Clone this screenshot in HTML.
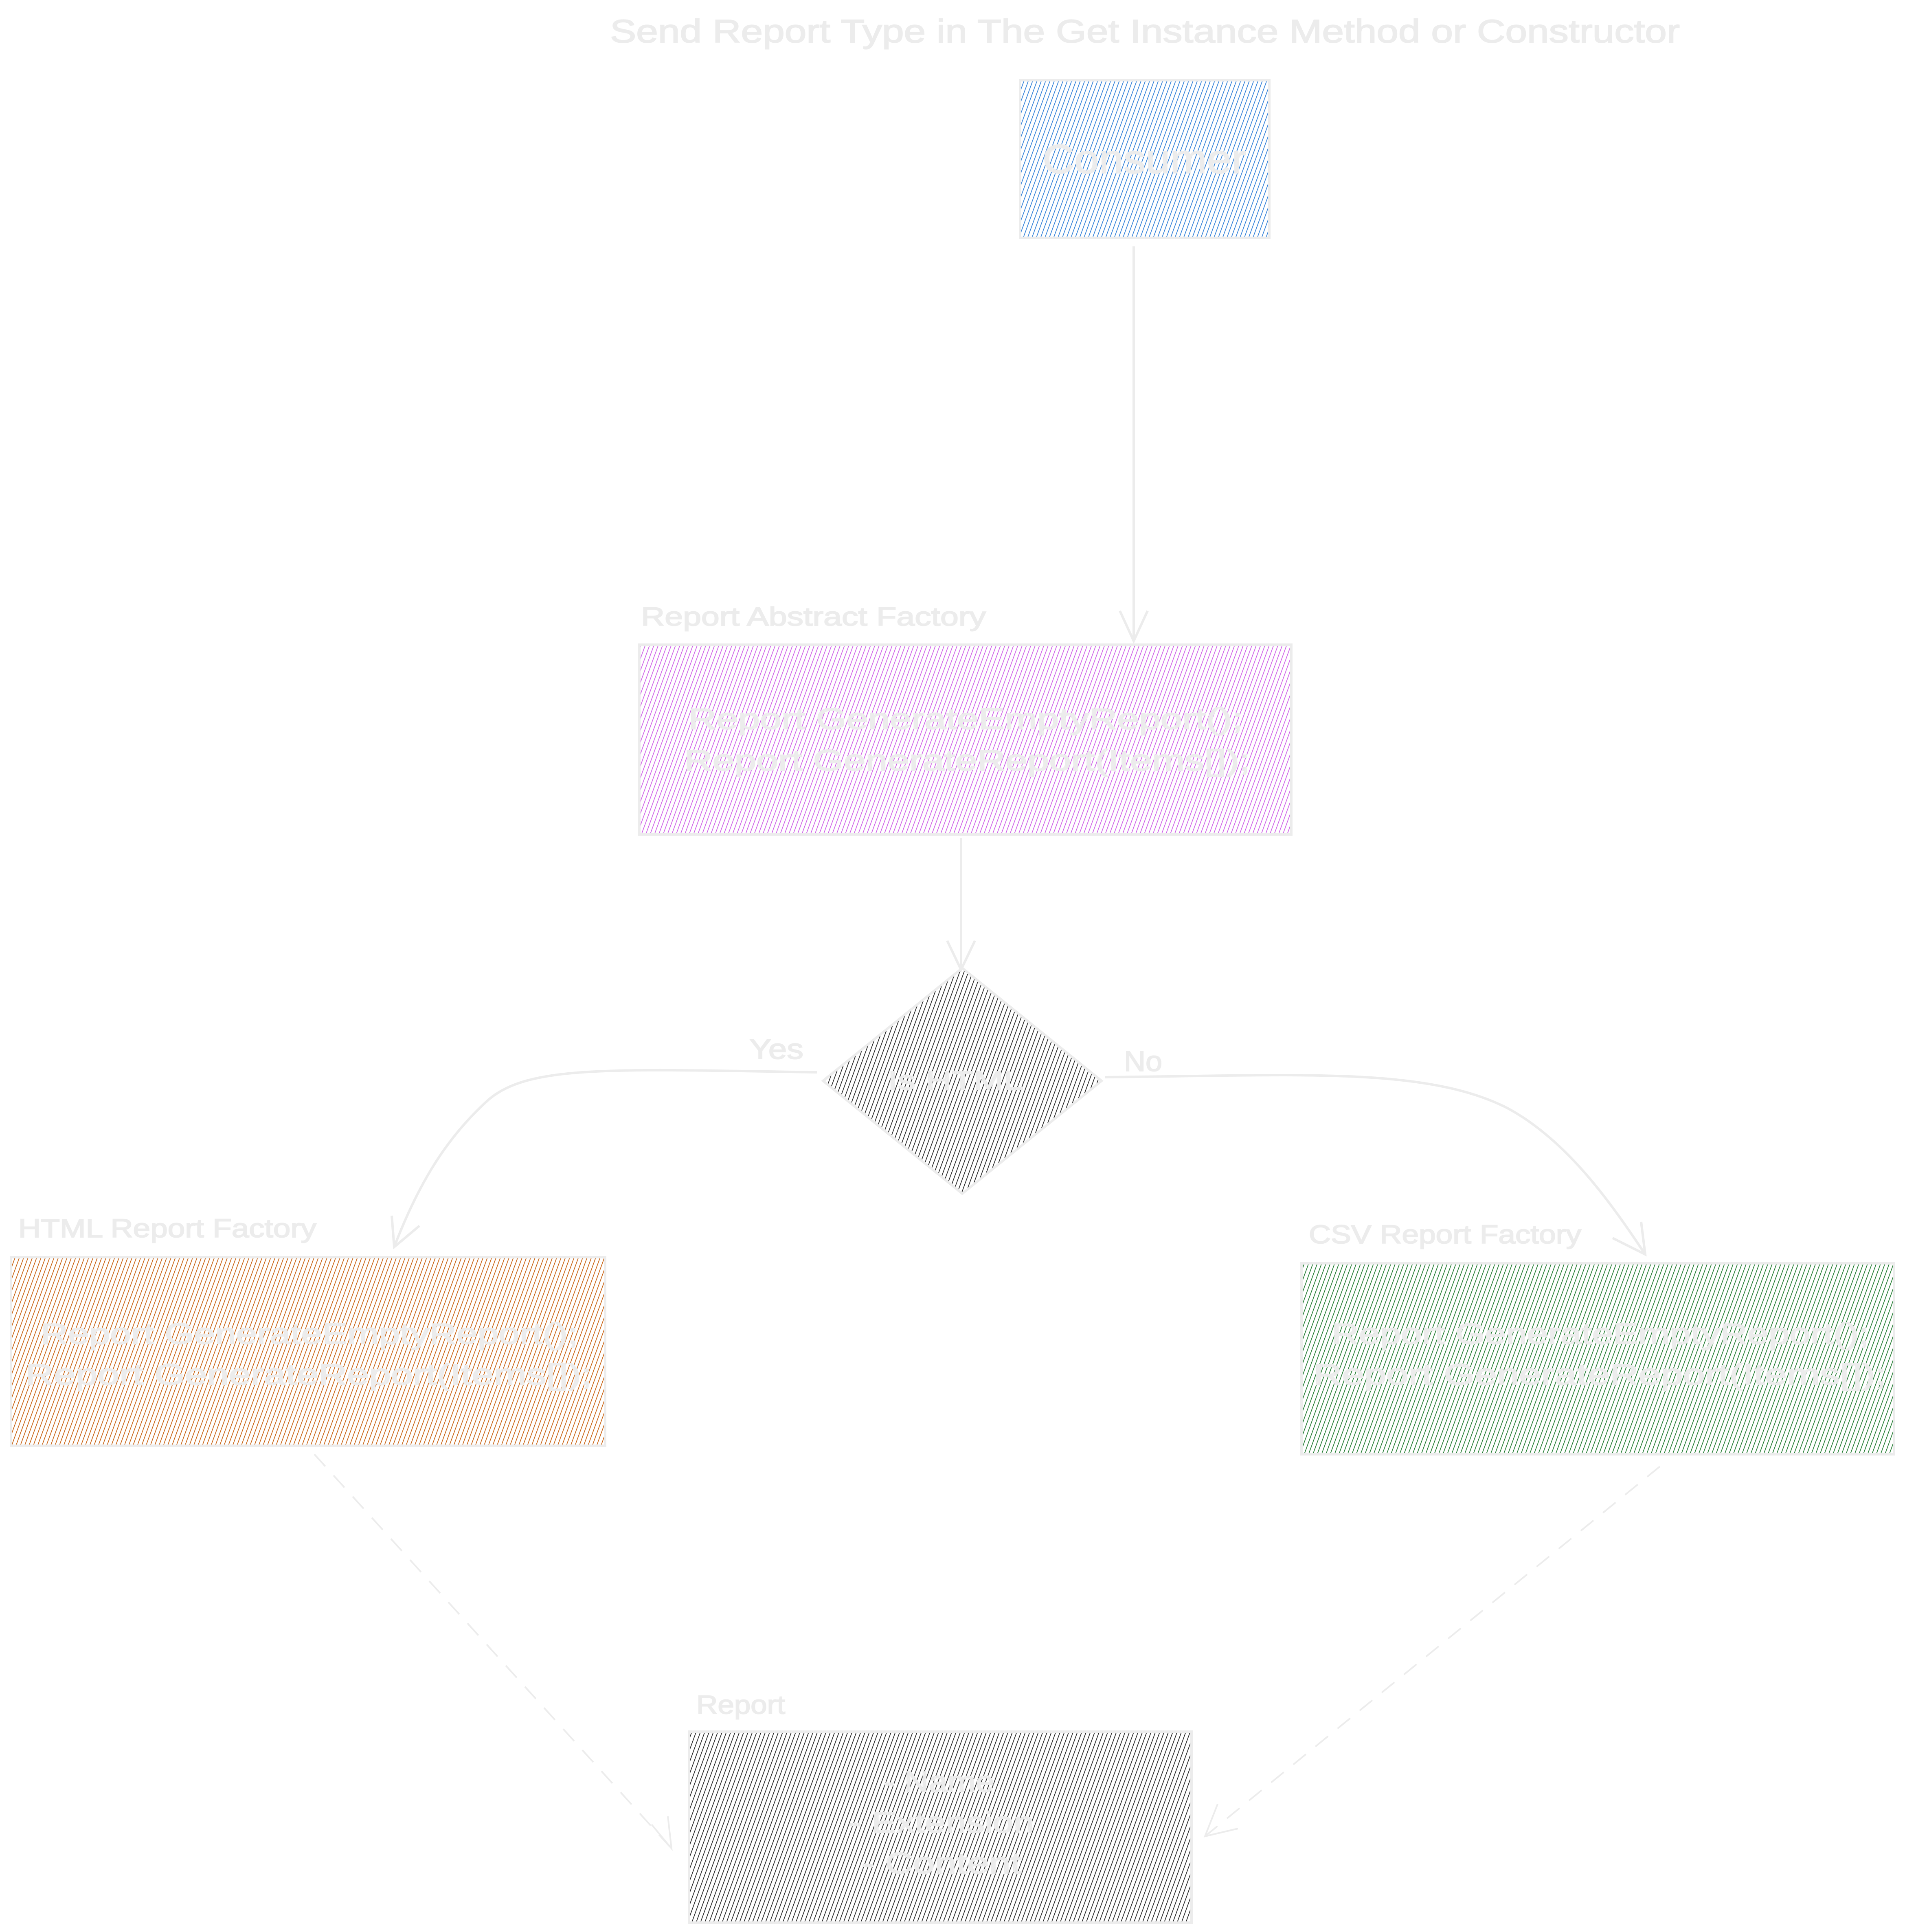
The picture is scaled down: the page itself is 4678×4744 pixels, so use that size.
<!DOCTYPE html>
<html><head><meta charset="utf-8"><style>
html,body{margin:0;padding:0;background:#fff;}
svg{display:block;}
text{font-family:"Liberation Sans",sans-serif;fill:#ececec;stroke:#ececec;stroke-width:2;}
</style></head><body>
<svg width="4678" height="4744" viewBox="0 0 4678 4744" xmlns="http://www.w3.org/2000/svg">
<defs>
<pattern id="hb" width="10" height="10" patternUnits="userSpaceOnUse" patternTransform="rotate(20)"><line x1="0" y1="0" x2="0" y2="10" stroke="#2f7fd8" stroke-width="3.5"/></pattern>
<pattern id="hp" width="10" height="10" patternUnits="userSpaceOnUse" patternTransform="rotate(20)"><line x1="0" y1="0" x2="0" y2="10" stroke="#cf5ee8" stroke-width="3.5"/></pattern>
<pattern id="ho" width="10" height="10" patternUnits="userSpaceOnUse" patternTransform="rotate(20)"><line x1="0" y1="0" x2="0" y2="10" stroke="#c8600e" stroke-width="3.5"/></pattern>
<pattern id="hg" width="10" height="10" patternUnits="userSpaceOnUse" patternTransform="rotate(20)"><line x1="0" y1="0" x2="0" y2="10" stroke="#1f7a2e" stroke-width="3.5"/></pattern>
<pattern id="hk" width="10" height="10" patternUnits="userSpaceOnUse" patternTransform="rotate(20)"><line x1="0" y1="0" x2="0" y2="10" stroke="#222" stroke-width="3.5"/></pattern>
</defs>
<g stroke="#ececec" stroke-width="6" fill="none">
<path d="M2784 605 L2784 1574"/><path d="M2750 1500 L2784 1574 L2818 1500"/>
<path d="M2360 2058 L2360 2381"/><path d="M2326 2310 L2360 2381 L2394 2310"/>
<path d="M2006 2633 C1500 2625 1300 2615 1200 2700 C1100 2790 1030 2900 968 3062"/><path d="M962 2985 L968 3062 L1030 3010"/>
<path d="M2714 2645 C3200 2640 3500 2620 3700 2720 C3850 2800 3960 2960 4040 3080"/><path d="M3960 3040 L4040 3080 L4030 3000"/>
<path d="M772 3571 L1649 4539" stroke-dasharray="40 30" stroke-width="4"/><path d="M1600 4480 L1649 4539 L1640 4460" stroke-width="4"/>
<path d="M4076 3601 L2959 4509" stroke-dasharray="40 30" stroke-width="4"/><path d="M2990 4430 L2959 4509 L3040 4490" stroke-width="4"/>
</g>
<rect x="2505" y="197" width="612" height="387" fill="url(#hb)" stroke="#ececec" stroke-width="6"/>
<rect x="1570" y="1583" width="1601" height="466" fill="url(#hp)" stroke="#ececec" stroke-width="6"/>
<polygon points="2363,2377 2705,2654 2363,2931 2021,2654" fill="url(#hk)" stroke="#ececec" stroke-width="6"/>
<rect x="27" y="3087" width="1459" height="463" fill="url(#ho)" stroke="#ececec" stroke-width="6"/>
<rect x="3196" y="3102" width="1455" height="469" fill="url(#hg)" stroke="#ececec" stroke-width="6"/>
<rect x="1692" y="4252" width="1234" height="469" fill="url(#hk)" stroke="#ececec" stroke-width="6"/>
<text x="1498" y="104" font-size="80" textLength="2627" lengthAdjust="spacingAndGlyphs">Send Report Type in The Get Instance Method or Constructor</text>
<text x="2560" y="425" font-size="100" textLength="500" lengthAdjust="spacingAndGlyphs">Consumer</text>
<text x="1574" y="1536" font-size="64" textLength="847" lengthAdjust="spacingAndGlyphs">Report Abstract Factory</text>
<text x="1690" y="1790" font-size="72" textLength="1362" lengthAdjust="spacingAndGlyphs">Report GenerateEmptyReport();</text>
<text x="1680" y="1892" font-size="72" textLength="1390" lengthAdjust="spacingAndGlyphs">Report GenerateReport(Items[]);</text>
<text x="2180" y="2675" font-size="64" textLength="333" lengthAdjust="spacingAndGlyphs">Is HTML</text>
<text x="1840" y="2600" font-size="70" textLength="133" lengthAdjust="spacingAndGlyphs">Yes</text>
<text x="2760" y="2630" font-size="70" textLength="94" lengthAdjust="spacingAndGlyphs">No</text>
<text x="45" y="3038" font-size="64" textLength="732" lengthAdjust="spacingAndGlyphs">HTML Report Factory</text>
<text x="100" y="3300" font-size="72" textLength="1320" lengthAdjust="spacingAndGlyphs">Report GenerateEmptyReport();</text>
<text x="62" y="3400" font-size="72" textLength="1392" lengthAdjust="spacingAndGlyphs">Report GenerateReport(Items[]);</text>
<text x="3214" y="3053" font-size="64" textLength="669" lengthAdjust="spacingAndGlyphs">CSV Report Factory</text>
<text x="3270" y="3300" font-size="72" textLength="1320" lengthAdjust="spacingAndGlyphs">Report GenerateEmptyReport();</text>
<text x="3225" y="3400" font-size="72" textLength="1407" lengthAdjust="spacingAndGlyphs">Report GenerateReport(Items[]);</text>
<text x="1710" y="4208" font-size="64" textLength="218" lengthAdjust="spacingAndGlyphs">Report</text>
<text x="2170" y="4400" font-size="72" textLength="272" lengthAdjust="spacingAndGlyphs">- Name</text>
<text x="2085" y="4500" font-size="72" textLength="454" lengthAdjust="spacingAndGlyphs">- Extension</text>
<text x="2115" y="4600" font-size="72" textLength="393" lengthAdjust="spacingAndGlyphs">- Content</text>
</svg>
</body></html>
